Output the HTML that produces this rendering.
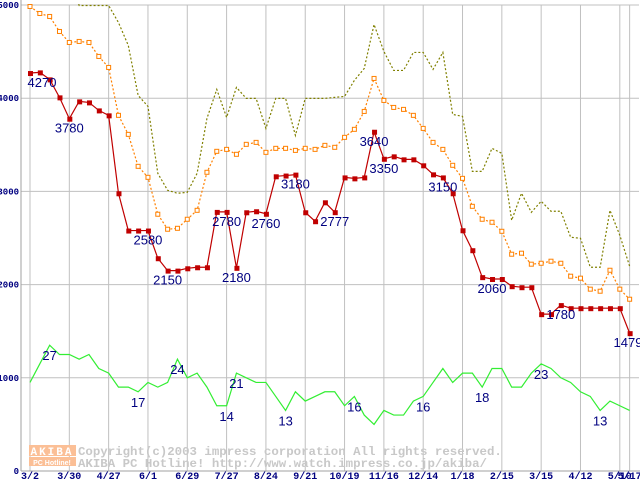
<!DOCTYPE html>
<html><head><meta charset="utf-8"><style>
html,body{margin:0;padding:0;background:#fff;width:640px;height:480px;overflow:hidden}
svg{display:block}
.yl{font:bold 9px "Liberation Mono",monospace;fill:#000080}
.xl{font:bold 10px "Liberation Mono",monospace;fill:#000080}
.vl{font:13px "Liberation Sans",sans-serif;fill:#000080}
.cp{font:bold 12.4px "Liberation Mono",monospace;fill:#c8c8c8}
</style></head><body>
<svg id="chart" width="640" height="480">
<g id="grid"></g>
<g id="wm">
<rect x="29" y="445" width="47" height="11" fill="#fbbf96"/>
<text x="52" y="455" text-anchor="middle" style="font:bold 11px 'Liberation Mono',monospace;fill:#fff;letter-spacing:2px">AKIBA</text>
<rect x="29" y="457" width="47" height="9" fill="#fbbf96"/>
<text x="52" y="465" text-anchor="middle" style="font:bold 7px 'Liberation Sans',sans-serif;fill:#fff">PC Hotline!</text>
<text class="cp" x="78" y="455">Copyright(c)2003 impress corporation All rights reserved.</text>
<text class="cp" x="78" y="467">AKIBA PC Hotline!  http://www.watch.impress.co.jp/akiba/</text>
</g>
<g id="series"></g>
<g id="labels"></g>
</svg>
<script>
const xTickLabels=["3/2","3/30","4/27","6/1","6/29","7/27","8/24","9/21","10/19","11/16","12/14","1/18","2/15","3/15","4/12","5/10","5/17"];
const xTickIdx=[0,4,8,12,16,20,24,28,32,36,40,44,48,52,56,60,61];
const yTicks=[0,1000,2000,3000,4000,5000];
const lowPrice=[4270,4277,4202,4009,3780,3966,3955,3869,3816,2980,2580,2580,2580,2283,2150,2150,2175,2186,2186,2780,2780,2180,2776,2787,2760,3162,3170,3180,2776,2680,2883,2777,3150,3140,3150,3640,3350,3376,3344,3344,3280,3183,3150,2980,2583,2369,2080,2060,2060,1983,1972,1972,1683,1683,1780,1747,1747,1747,1747,1747,1747,1479];
const avgPrice=[4984,4909,4877,4716,4598,4609,4598,4448,4330,3816,3612,3269,3151,2755,2594,2604,2701,2797,3205,3430,3451,3398,3505,3526,3419,3462,3462,3440,3462,3451,3494,3473,3580,3666,3858,4212,3976,3901,3880,3816,3676,3526,3451,3280,3140,2840,2701,2669,2572,2326,2337,2219,2229,2251,2229,2090,2069,1951,1929,2154,1951,1843];
const highPrice=[5600,5600,5600,5600,5400,4995,4995,4995,4995,4812,4566,4030,3912,3194,3012,2980,2990,3194,3783,4094,3794,4116,3998,3998,3676,3998,3998,3601,3998,3998,3998,4009,4019,4191,4319,4791,4502,4298,4298,4491,4491,4309,4491,3826,3805,3215,3215,3462,3408,2690,2980,2776,2894,2787,2787,2508,2497,2186,2186,2797,2529,2197];
const shopCount=[19,23,27,25,25,24,25,22,21,18,18,17,19,18,19,24,20,21,18,14,14,21,20,19,19,16,13,17,15,16,17,17,14,16,12,10,13,12,12,15,16,19,22,19,21,21,18,22,22,18,18,21,23,22,20,19,17,16,13,15,14,13];
const priceLabelIdx=[0,4,12,14,20,21,24,27,31,35,36,42,47,54,61];
const countLabelIdx=[2,15,11,20,21,26,33,40,46,52,58];

const NS="http://www.w3.org/2000/svg";
const L=21,R=639,T=5,B=471,X0=30,DX=9.83;
const xs=i=>X0+i*DX;
const ys=v=>B-(v/5000)*(B-T);
const COUNT_SCALE=50;
function mk(tag,attrs,parent){const e=document.createElementNS(NS,tag);for(const k in attrs)e.setAttribute(k,attrs[k]);parent.appendChild(e);return e;}
const grid=document.getElementById('grid'),ser=document.getElementById('series'),lab=document.getElementById('labels');
mk('defs',{},document.getElementById('chart')).innerHTML='<clipPath id="clip"><rect x="21" y="4" width="619" height="468"/></clipPath>';
ser.setAttribute('clip-path','url(#clip)');
yTicks.forEach(v=>{
  const l=mk('line',{x1:L,x2:R,y1:ys(v),y2:ys(v),stroke:'#c0c0c0','stroke-width':1},grid);
  
  
  const t=mk('text',{x:19,y:ys(v)+3,'text-anchor':'end',class:'yl'},grid);
  
  
  t.textContent=v;
});
xTickIdx.forEach((ix,k)=>{
  const l=mk('line',{x1:xs(ix),x2:xs(ix),y1:T,y2:B,stroke:'#c0c0c0','stroke-width':1},grid);
  
  
  const t=mk('text',{x:xs(ix),y:479,'text-anchor':'middle',class:'xl'},grid);
  
  
  t.textContent=xTickLabels[k];
});
const ax=mk('line',{x1:L,x2:L,y1:0,y2:B,stroke:'#a0a0a0'},grid);


const bx=mk('line',{x1:L,x2:R+1,y1:B,y2:B,stroke:'#a0a0a0'},grid);



function line(arr,f,color,dash,name){
  const p=mk('polyline',{points:arr.map((v,i)=>xs(i)+','+f(v)).join(' '),fill:'none',stroke:color,'stroke-width':1.2,'stroke-dasharray':dash||'none'},ser);
  
  
}
line(highPrice,ys,'#808000','2,2','high-price-line');
line(avgPrice,ys,'#ff8000','2,2','avg-price-line');
avgPrice.forEach((v,i)=>{
  const r=mk('rect',{x:xs(i)-2,y:ys(v)-2,width:4,height:4,fill:'#fff',stroke:'#ff8000','stroke-width':1},ser);
  
  
});
line(lowPrice,ys,'#c00000','','low-price-line');
lowPrice.forEach((v,i)=>{
  const r=mk('rect',{x:xs(i)-2,y:ys(v)-2,width:5,height:5,fill:'#c00000'},ser);
  
  
});
line(shopCount,c=>ys(c*COUNT_SCALE),'#33ee33','','shop-count-line');
function label(x,y,txt,name){
  x=Math.max(42,Math.min(628,x));
  const t=mk('text',{x:x,y:y+5,'text-anchor':'middle',class:'vl'},lab);
  
  
  t.textContent=txt;
}
priceLabelIdx.forEach(i=>label(xs(i),ys(lowPrice[i])+9,lowPrice[i],'price-label'));
countLabelIdx.forEach(i=>label(xs(i),ys(shopCount[i]*COUNT_SCALE)+10,shopCount[i],'count-label'));
</script>
</body></html>
